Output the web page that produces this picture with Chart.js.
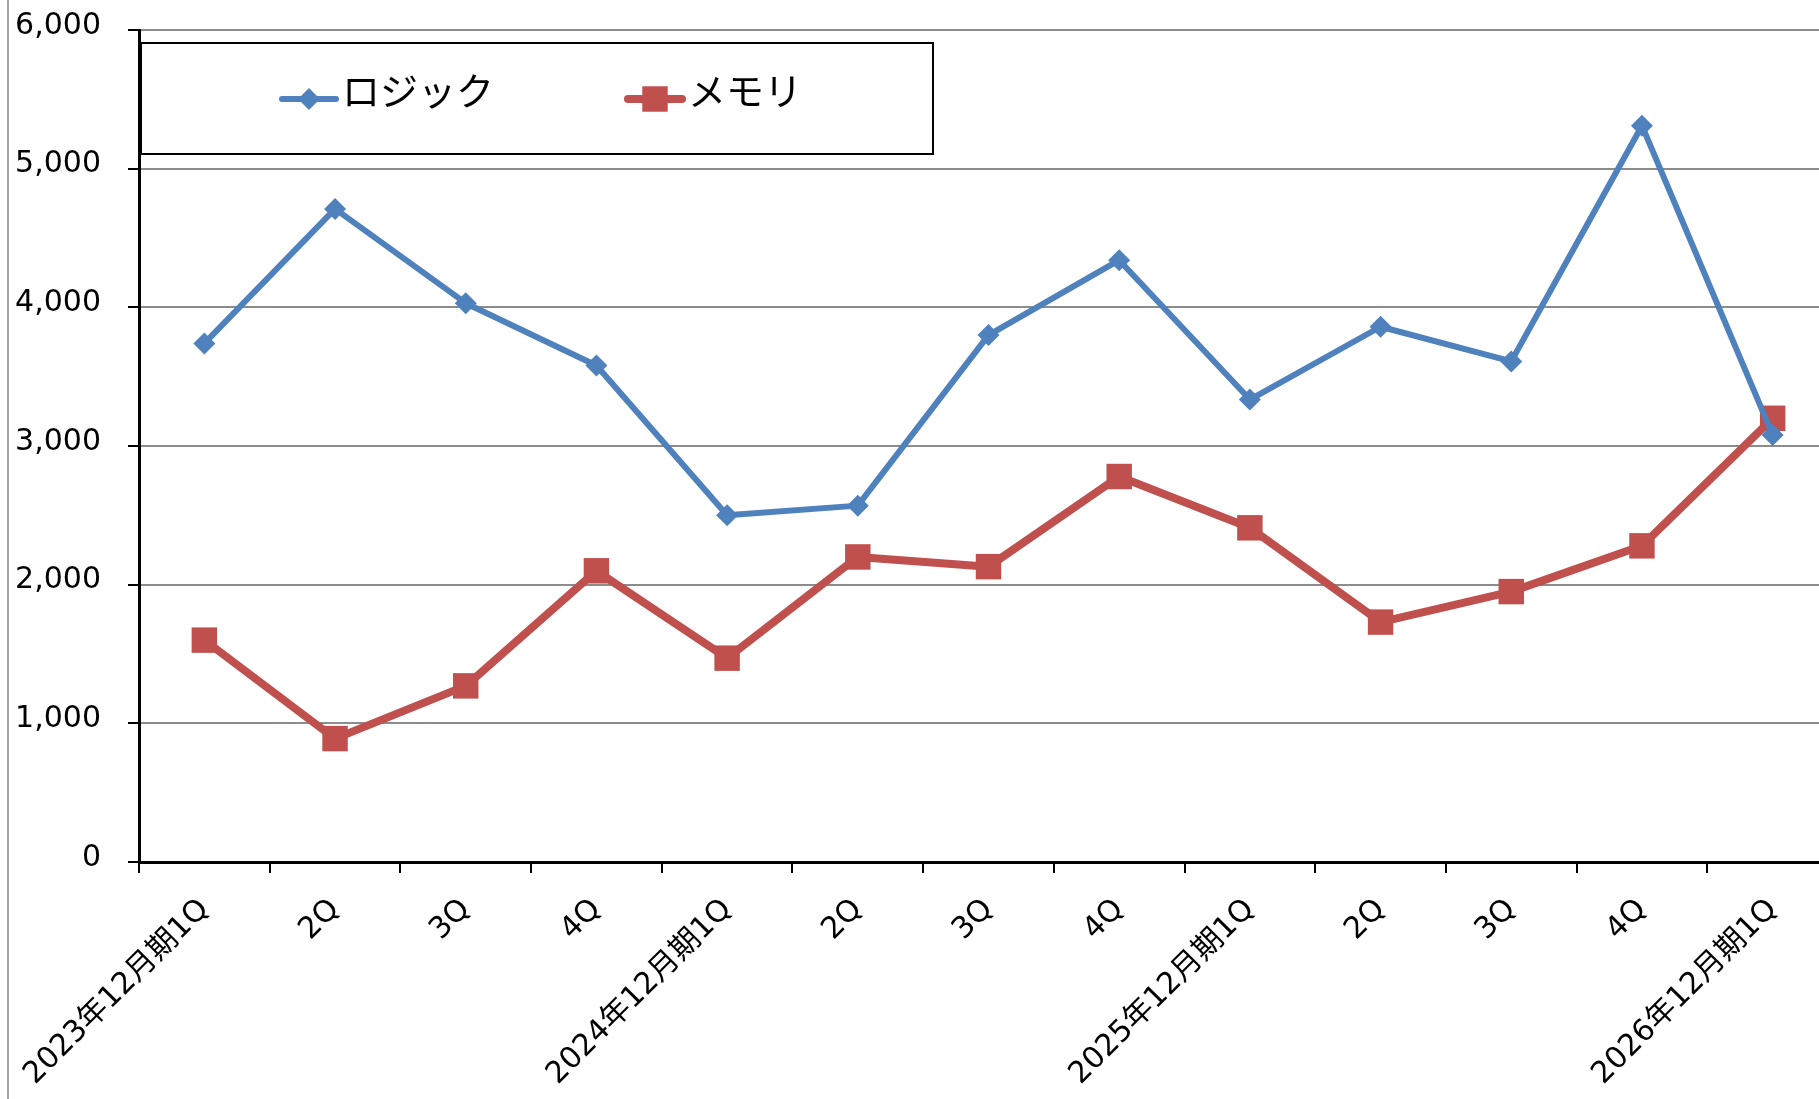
<!DOCTYPE html>
<html>
<head>
<meta charset="utf-8">
<script src="https://cdn.jsdelivr.net/npm/chart.js@4.4.1/dist/chart.umd.min.js"></script>
<style>
  html, body { margin: 0; padding: 0; background: #fff; overflow: hidden; }
  #wrap { position: relative; width: 1856px; height: 1099px; }
  #frame { position: absolute; left: 7px; top: 0; width: 2px; height: 1099px; background: #a6a6a6; }
</style>
</head>
<body>
<div id="wrap">
  <canvas id="chart" width="1856" height="1099"></canvas>
  <div id="frame"></div>
</div>
<script>
  const categories = [
    "2023年12月期1Q", "2Q", "3Q", "4Q",
    "2024年12月期1Q", "2Q", "3Q", "4Q",
    "2025年12月期1Q", "2Q", "3Q", "4Q",
    "2026年12月期1Q"
  ];
  const logicValues = [3740, 4710, 4030, 3580, 2500, 2570, 3800, 4340, 3335, 3860, 3610, 5310, 3080];
  const memoryValues = [1600, 890, 1270, 2100, 1470, 2200, 2130, 2780, 2410, 1730, 1950, 2280, 3200];
  const yTicks = [0, 1000, 2000, 3000, 4000, 5000, 6000];

  const FONT = "'DejaVu Sans', 'Noto Sans CJK JP', sans-serif";

  // boxed legend: line + marker + label, like the spreadsheet original
  const boxedLegend = {
    id: "boxedLegend",
    afterDraw(chart) {
      const ctx = chart.ctx;
      ctx.save();
      ctx.fillStyle = "#fff";
      ctx.fillRect(141, 43, 792, 111);
      ctx.strokeStyle = "#000";
      ctx.lineWidth = 2;
      ctx.strokeRect(141, 43, 792, 111);

      const spots = [282, 628];
      chart.data.datasets.forEach((ds, i) => {
        const x0 = spots[i], y = 99;
        ctx.strokeStyle = ds.borderColor;
        ctx.lineWidth = ds.borderWidth;
        ctx.lineCap = "round";
        ctx.beginPath();
        ctx.moveTo(x0, y);
        ctx.lineTo(x0 + 54, y);
        ctx.stroke();
        ctx.fillStyle = ds.pointBackgroundColor;
        Chart.helpers.drawPoint(ctx, {
          pointStyle: ds.pointStyle, radius: ds.pointRadius, rotation: 0, borderWidth: 0
        }, x0 + 27, y);
        ctx.fillStyle = "#000";
        ctx.font = "38px " + FONT;
        ctx.textBaseline = "middle";
        ctx.textAlign = "left";
        ctx.fillText(ds.label, x0 + 60, y - 4);
      });
      ctx.restore();
    }
  };

  new Chart(document.getElementById("chart").getContext("2d"), {
    type: "line",
    data: {
      labels: categories,
      datasets: [
        {
          label: "ロジック",
          data: logicValues,
          borderColor: "#4f81bd",
          backgroundColor: "#4f81bd",
          pointBackgroundColor: "#4f81bd",
          borderWidth: 6,
          pointStyle: "rectRot",
          pointRadius: 11,
          pointBorderWidth: 0,
          tension: 0,
          borderJoinStyle: "round",
          borderCapStyle: "round"
        },
        {
          label: "メモリ",
          data: memoryValues,
          borderColor: "#c0504d",
          backgroundColor: "#c0504d",
          pointBackgroundColor: "#c0504d",
          borderWidth: 8,
          pointStyle: "rect",
          pointRadius: 18,
          pointBorderWidth: 0,
          tension: 0,
          borderJoinStyle: "round",
          borderCapStyle: "round"
        }
      ]
    },
    options: {
      responsive: false,
      animation: false,
      layout: { padding: { top: 30, right: 8, bottom: 0, left: 0 } },
      plugins: {
        legend: { display: false },
        tooltip: { enabled: false }
      },
      scales: {
        x: {
          offset: true,
          grid: {
            offset: true,
            drawOnChartArea: false,
            drawTicks: true,
            tickLength: 11,
            tickColor: "#000",
            lineWidth: 2
          },
          border: { color: "#000", width: 3 },
          ticks: {
            autoSkip: false,
            minRotation: 45,
            maxRotation: 45,
            padding: 19,
            color: "#000",
            font: { family: FONT, size: 30 }
          },
          afterFit(scale) {
            scale.height = 237;
            scale.paddingLeft = 0;
            scale.paddingRight = 0;
          }
        },
        y: {
          min: 0,
          max: 6000,
          afterBuildTicks(scale) {
            scale.ticks = yTicks.map(v => ({ value: v }));
          },
          grid: {
            color: "#8c8c8c",
            lineWidth: 2,
            tickLength: 11,
            tickColor: "#000"
          },
          border: { color: "#000", width: 3 },
          ticks: {
            padding: 27,
            labelOffset: -4,
            color: "#000",
            font: { family: FONT, size: 30 },
            callback: v => v.toLocaleString("en-US")
          },
          afterFit(scale) {
            scale.width = 139;
            scale.paddingTop = 0;
            scale.paddingBottom = 0;
          }
        }
      }
    },
    plugins: [boxedLegend]
  });
</script>
</body>
</html>
